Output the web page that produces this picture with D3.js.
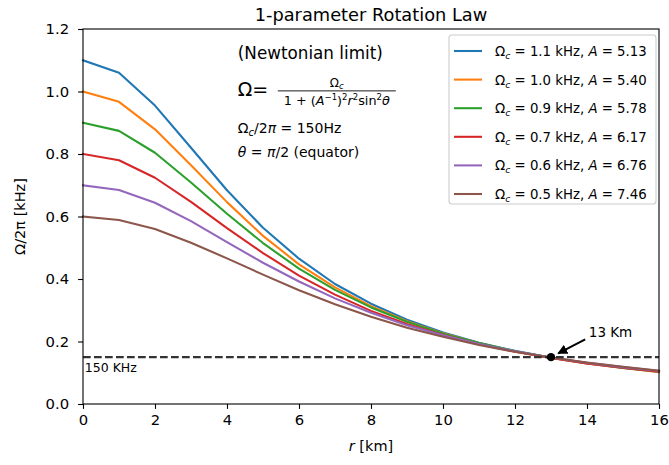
<!doctype html>
<html>
  <head>
    <script src="https://cdnjs.cloudflare.com/ajax/libs/d3/7.8.5/d3.min.js"></script>
    <style>
      body { margin: 0; background: #fff; }
      text { font-family: "DejaVu Sans", sans-serif; fill: #000; }
    </style>
  </head>
  <body>
    <svg width="669" height="465"></svg>
    <script>
        // radius samples (km)
        var radius = [0, 1, 2, 3, 4, 5, 6, 7, 8, 9, 10, 11, 12, 13, 14, 15, 16];

        // Omega/2pi [kHz]
        var blue   = [1.100, 1.060, 0.955, 0.820, 0.684, 0.564, 0.465, 0.384, 0.321, 0.270, 0.229, 0.196, 0.170, 0.148, 0.130, 0.115, 0.103];
        var orange = [1.000, 0.967, 0.879, 0.764, 0.646, 0.538, 0.447, 0.373, 0.313, 0.265, 0.226, 0.194, 0.168, 0.147, 0.130, 0.115, 0.102];
        var green  = [0.900, 0.874, 0.804, 0.709, 0.609, 0.515, 0.433, 0.365, 0.309, 0.263, 0.225, 0.195, 0.169, 0.149, 0.131, 0.116, 0.104];
        var red    = [0.800, 0.780, 0.724, 0.647, 0.563, 0.483, 0.411, 0.350, 0.298, 0.256, 0.221, 0.191, 0.167, 0.147, 0.130, 0.116, 0.104];
        var purple = [0.700, 0.685, 0.644, 0.585, 0.518, 0.452, 0.392, 0.338, 0.292, 0.252, 0.220, 0.192, 0.169, 0.149, 0.132, 0.118, 0.106];
        var brown  = [0.600, 0.589, 0.560, 0.516, 0.466, 0.414, 0.364, 0.319, 0.279, 0.244, 0.215, 0.189, 0.167, 0.149, 0.133, 0.119, 0.107];

        var omegaC = ["1.1", "1.0", "0.9", "0.7", "0.6", "0.5"];
        var paramA = ["5.13", "5.40", "5.78", "6.17", "6.76", "7.46"];
        var colors = ["#1f77b4", "#ff7f0e", "#2ca02c", "#d62728", "#9467bd", "#8c564b"];

        var xTicks = [0, 2, 4, 6, 8, 10, 12, 14, 16];
        var yTicks = [0.0, 0.2, 0.4, 0.6, 0.8, 1.0, 1.2];

        var threshold = 0.15;   // 150 Hz line
        var crossing = [13, 0.15];

        var series = [blue, orange, green, red, purple, brown];

        var margin = {left: 83, right: 10, top: 29, bottom: 61};
        var W = 669, H = 465;
        var svg = d3.select("svg");

        var x = d3.scaleLinear().domain([0, 16]).range([margin.left, W - margin.right]);
        var y = d3.scaleLinear().domain([0, 1.2]).range([H - margin.bottom, margin.top]);

        // curves
        var line = d3.line()
            .x((d, i) => x(radius[i]))
            .y(d => y(d));

        svg.append("g").selectAll("path")
            .data(series)
            .enter()
            .append("path")
                .attr("d", line)
                .attr("fill", "none")
                .attr("stroke", (d, i) => colors[i])
                .attr("stroke-width", 2.08)
                .attr("stroke-linejoin", "round")
                .attr("stroke-linecap", "square");

        // 150 Hz line
        svg.append("line")
            .attr("x1", x(0)).attr("x2", x(16))
            .attr("y1", y(threshold)).attr("y2", y(threshold))
            .attr("stroke", "#333")
            .attr("stroke-width", 2.08)
            .attr("stroke-dasharray", "7.7,3.3");

        svg.append("text")
            .attr("x", x(0.05)).attr("y", y(threshold) + 15)
            .attr("font-size", 12.5)
            .attr("fill", "#333")
            .text("150 KHz");

        svg.append("circle")
            .attr("cx", x(crossing[0])).attr("cy", y(crossing[1]))
            .attr("r", 4.2)
            .attr("fill", "#000");

        // arrow 13 Km
        svg.append("defs").append("marker")
            .attr("id", "head")
            .attr("viewBox", "0 0 10 10")
            .attr("refX", 9).attr("refY", 5)
            .attr("markerWidth", 5).attr("markerHeight", 5)
            .attr("markerUnits", "strokeWidth")
            .attr("orient", "auto")
            .append("path").attr("d", "M0,0 L10,5 L0,10 z").attr("fill", "#000");

        svg.append("line")
            .attr("x1", x(13.95)).attr("y1", y(0.207))
            .attr("x2", x(13.2)).attr("y2", y(0.162))
            .attr("stroke", "#000")
            .attr("stroke-width", 2)
            .attr("marker-end", "url(#head)");

        svg.append("text")
            .attr("x", x(14.05)).attr("y", y(0.214))
            .attr("font-size", 13.5)
            .text("13 Km");

        // frame
        svg.append("rect")
            .attr("x", x(0)).attr("y", y(1.2))
            .attr("width", x(16) - x(0)).attr("height", y(0) - y(1.2))
            .attr("fill", "none").attr("stroke", "#000").attr("stroke-width", 1.1);

        var xAxis = svg.append("g")
            .attr("transform", "translate(0," + y(0) + ")")
            .call(d3.axisBottom(x).tickValues(xTicks).tickSize(4.9).tickPadding(6).tickFormat(d3.format("d")));
        var yAxis = svg.append("g")
            .attr("transform", "translate(" + x(0) + ",0)")
            .call(d3.axisLeft(y).tickValues(yTicks).tickSize(4.9).tickPadding(9).tickFormat(d3.format(".1f")));

        [xAxis, yAxis].forEach(g => {
            g.select(".domain").remove();
            g.selectAll("line").attr("stroke", "#000").attr("stroke-width", 1.1);
            g.selectAll("text").attr("font-size", 14.8).attr("font-family", "DejaVu Sans").attr("fill", "#000");
        });

        // title and labels
        svg.append("text")
            .attr("x", (x(0) + x(16)) / 2).attr("y", 21)
            .attr("text-anchor", "middle")
            .attr("font-size", 17.8)
            .text("1-parameter Rotation Law");

        var xl = svg.append("text")
            .attr("x", (x(0) + x(16)) / 2).attr("y", 451)
            .attr("text-anchor", "middle")
            .attr("font-size", 14.5);
        xl.append("tspan").attr("font-style", "italic").text("r");
        xl.append("tspan").text(" [km]");

        svg.append("text")
            .attr("transform", "translate(25," + (y(0) + y(1.2)) / 2 + ") rotate(-90)")
            .attr("text-anchor", "middle")
            .attr("font-size", 14.5)
            .text("Ω/2π [kHz]");

        // formula block
        var fx = x(4.3);
        svg.append("text").attr("x", fx).attr("y", y(1.103))
            .attr("font-size", 16.8).text("(Newtonian limit)");

        var fb = y(0.986);
        svg.append("text").attr("x", fx).attr("y", fb)
            .attr("font-size", 19).text("Ω=");
        var barL = fx + 40, barR = fx + 158;
        svg.append("line")
            .attr("x1", barL).attr("x2", barR)
            .attr("y1", fb - 5).attr("y2", fb - 5)
            .attr("stroke", "#000").attr("stroke-width", 0.9);
        var num = svg.append("text").attr("x", (barL + barR) / 2).attr("y", fb - 9)
            .attr("text-anchor", "middle").attr("font-size", 12);
        num.append("tspan").text("Ω");
        num.append("tspan").attr("font-style", "italic").attr("font-size", 8.5).attr("dy", 2).text("c");
        var den = svg.append("text").attr("x", (barL + barR) / 2).attr("y", fb + 9)
            .attr("text-anchor", "middle").attr("font-size", 12.8);
        den.append("tspan").text("1 + (");
        den.append("tspan").attr("font-style", "italic").text("A");
        den.append("tspan").attr("font-size", 8.5).attr("dy", -5).text("−1");
        den.append("tspan").attr("dy", 5).text(")");
        den.append("tspan").attr("font-size", 8.5).attr("dy", -5).text("2");
        den.append("tspan").attr("font-style", "italic").attr("dy", 5).text("r");
        den.append("tspan").attr("font-size", 8.5).attr("dy", -5).text("2");
        den.append("tspan").attr("dy", 5).text("sin");
        den.append("tspan").attr("font-size", 8.5).attr("dy", -5).text("2");
        den.append("tspan").attr("font-style", "italic").attr("dy", 5).text("θ");

        var l3 = svg.append("text").attr("x", fx).attr("y", y(0.868)).attr("font-size", 14);
        l3.append("tspan").text("Ω");
        l3.append("tspan").attr("font-style", "italic").attr("font-size", 10).attr("dy", 3).text("c");
        l3.append("tspan").attr("dy", -3).text("/2");
        l3.append("tspan").attr("font-style", "italic").text("π");
        l3.append("tspan").text(" = 150Hz");

        var l4 = svg.append("text").attr("x", fx).attr("y", y(0.792)).attr("font-size", 14);
        l4.append("tspan").attr("font-style", "italic").text("θ");
        l4.append("tspan").text(" = ");
        l4.append("tspan").attr("font-style", "italic").text("π");
        l4.append("tspan").text("/2 (equator)");

        // legend
        var lg = svg.append("g");
        lg.append("rect")
            .attr("x", 449).attr("y", 35)
            .attr("width", 207).attr("height", 169)
            .attr("rx", 3)
            .attr("fill", "#fff").attr("fill-opacity", 0.8)
            .attr("stroke", "#ccc").attr("stroke-width", 1.1);

        var rows = lg.selectAll("g.row")
            .data(colors)
            .enter()
            .append("g")
                .attr("transform", (d, i) => "translate(0," + (51 + i * 28.6) + ")");
        rows.append("line")
            .attr("x1", 454).attr("x2", 482)
            .attr("stroke", d => d).attr("stroke-width", 2.08);
        var lt = rows.append("text")
            .attr("x", 495).attr("y", 5)
            .attr("font-size", 13.3);
        lt.append("tspan").text("Ω");
        lt.append("tspan").attr("font-style", "italic").attr("font-size", 9.3).attr("dy", 3).text("c");
        lt.append("tspan").attr("dy", -3).text((d, i) => " = " + omegaC[i] + " kHz, ");
        lt.append("tspan").attr("font-style", "italic").text("A");
        lt.append("tspan").text((d, i) => " = " + paramA[i]);
    </script>
  </body>
</html>
